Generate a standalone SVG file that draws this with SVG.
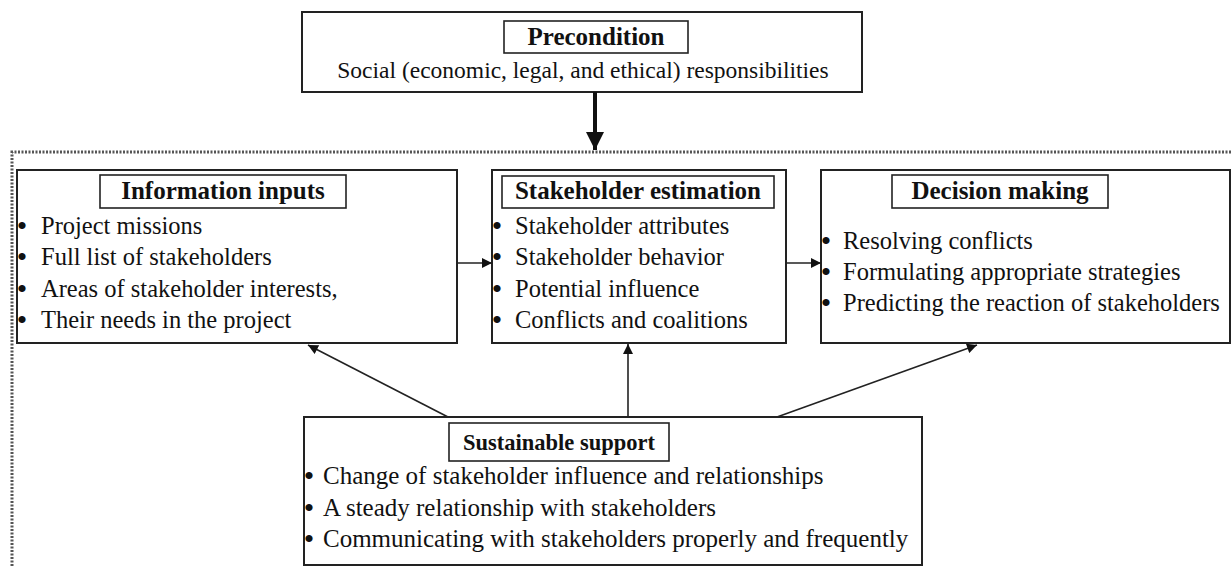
<svg xmlns="http://www.w3.org/2000/svg" width="1231" height="567" viewBox="0 0 1231 567">
<defs>
<style>
.box{fill:#fff;stroke:#222;stroke-width:2}
.tbox{fill:#fff;stroke:#222;stroke-width:1.6}
.title{font-family:"Liberation Serif","Times New Roman",serif;font-weight:bold;font-size:25px;fill:#111;text-anchor:middle}
.txt{font-family:"Liberation Serif","Times New Roman",serif;font-size:24.5px;fill:#111}
.bul{font-family:"Liberation Serif","Times New Roman",serif;font-size:30px;fill:#111;text-anchor:middle}
.conn{stroke:#222;stroke-width:1.6;fill:none}
</style>
<marker id="ah" viewBox="0 0 10 10" refX="10" refY="5" markerWidth="11" markerHeight="10" markerUnits="userSpaceOnUse" orient="auto">
<path d="M0,0 L10,5 L0,10 z" fill="#111"/>
</marker>
<marker id="ahb" viewBox="0 0 10 10" refX="10" refY="5" markerWidth="4.5" markerHeight="4.5" orient="auto">
<path d="M0,0 L10,5 L0,10 z" fill="#111"/>
</marker>
</defs>
<rect width="1231" height="567" fill="#fff"/>
<path d="M1231,152 H12 V567" fill="none" stroke="#555" stroke-width="3" stroke-dasharray="2,1.5"/>

<g id="precondition">
<rect class="box" x="302" y="12" width="560" height="80"/>
<rect class="tbox" x="504" y="21" width="184" height="32"/>
<text class="title" x="596" y="45">Precondition</text>
<text class="txt" x="583" y="78" text-anchor="middle" style="font-size:23.5px">Social (economic, legal, and ethical) responsibilities</text>
</g>

<g id="information-inputs">
<rect class="box" x="17" y="170" width="440" height="173"/>
<rect class="tbox" x="100" y="175" width="246" height="33"/>
<text class="title" x="223" y="199">Information inputs</text>
<text class="bul" x="22" y="236">•</text><text class="txt" x="41" y="234">Project missions</text>
<text class="bul" x="22" y="267">•</text><text class="txt" x="41" y="265">Full list of stakeholders</text>
<text class="bul" x="22" y="299">•</text><text class="txt" x="41" y="297">Areas of stakeholder interests,</text>
<text class="bul" x="22" y="330">•</text><text class="txt" x="41" y="328">Their needs in the project</text>
</g>

<g id="stakeholder-estimation">
<rect class="box" x="492" y="170" width="294" height="173"/>
<rect class="tbox" x="502" y="176" width="272" height="32"/>
<text class="title" x="638" y="199">Stakeholder estimation</text>
<text class="bul" x="497" y="236">•</text><text class="txt" x="515" y="234">Stakeholder attributes</text>
<text class="bul" x="497" y="267">•</text><text class="txt" x="515" y="265">Stakeholder behavior</text>
<text class="bul" x="497" y="299">•</text><text class="txt" x="515" y="297">Potential influence</text>
<text class="bul" x="497" y="330">•</text><text class="txt" x="515" y="328">Conflicts and coalitions</text>
</g>

<g id="decision-making">
<rect class="box" x="821" y="170" width="409" height="173"/>
<rect class="tbox" x="892" y="175" width="216" height="33"/>
<text class="title" x="1000" y="199">Decision making</text>
<text class="bul" x="826" y="251">•</text><text class="txt" x="843" y="249">Resolving conflicts</text>
<text class="bul" x="826" y="282">•</text><text class="txt" x="843" y="280">Formulating appropriate strategies</text>
<text class="bul" x="826" y="313">•</text><text class="txt" x="843" y="311">Predicting the reaction of stakeholders</text>
</g>

<g id="sustainable-support">
<rect class="box" x="304" y="417" width="618" height="148"/>
<rect class="tbox" x="449" y="423" width="220" height="38"/>
<text class="title" x="559" y="450" style="font-size:22.5px">Sustainable support</text>
<text class="bul" x="309" y="486">•</text><text class="txt" x="323" y="484" style="font-size:25px">Change of stakeholder influence and relationships</text>
<text class="bul" x="309" y="518">•</text><text class="txt" x="323" y="516" style="font-size:25px">A steady relationship with stakeholders</text>
<text class="bul" x="309" y="549">•</text><text class="txt" x="323" y="547" style="font-size:25px">Communicating with stakeholders properly and frequently</text>
</g>

<g id="connectors">
<line x1="595" y1="92" x2="595" y2="150" stroke="#111" stroke-width="4" marker-end="url(#ahb)"/>
<line class="conn" x1="457" y1="263" x2="492" y2="263" marker-end="url(#ah)"/>
<line class="conn" x1="786" y1="263" x2="821" y2="263" marker-end="url(#ah)"/>
<line class="conn" x1="448" y1="417" x2="308" y2="345" marker-end="url(#ah)"/>
<line class="conn" x1="628" y1="417" x2="628" y2="344" marker-end="url(#ah)"/>
<line class="conn" x1="777" y1="417" x2="977" y2="345" marker-end="url(#ah)"/>
</g>
</svg>
